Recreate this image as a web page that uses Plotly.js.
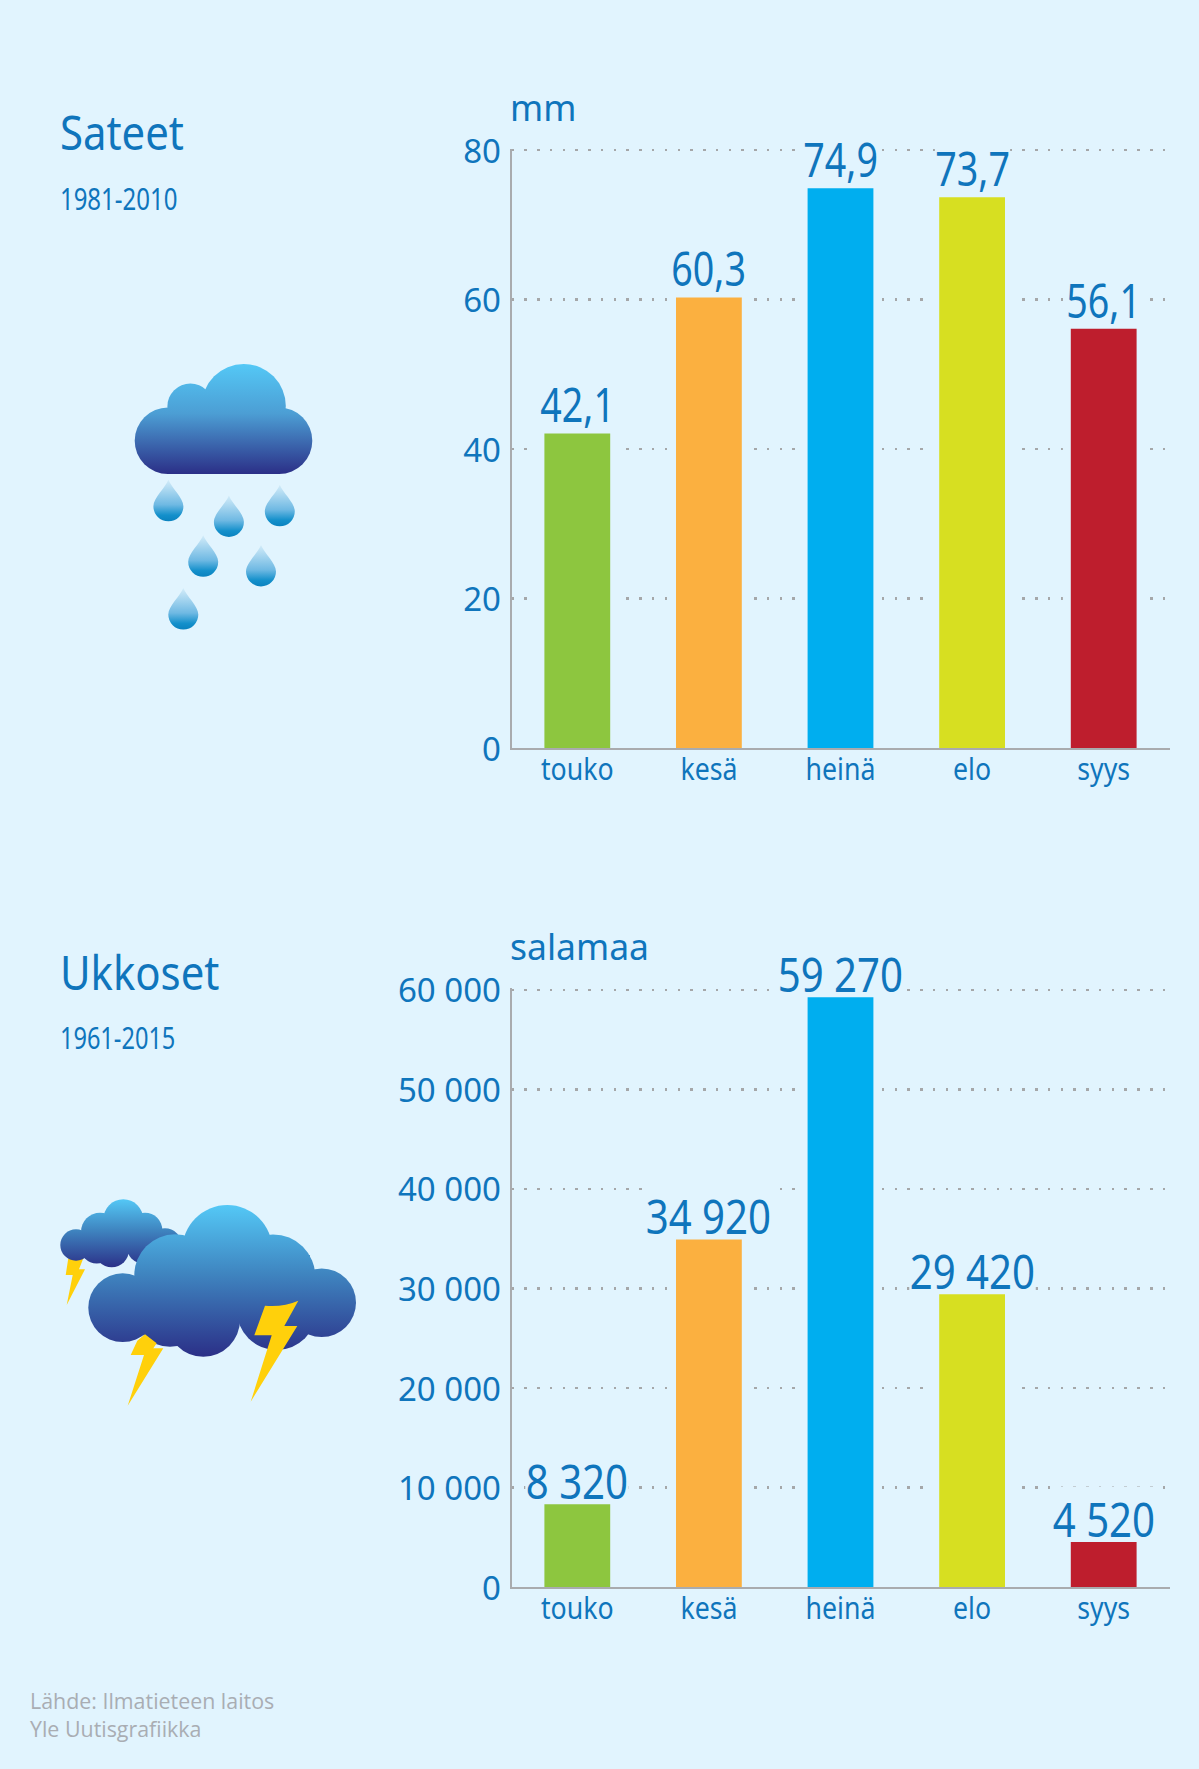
<!DOCTYPE html>
<html><head><meta charset="utf-8">
<script src="https://cdn.plot.ly/plotly-3.0.1.min.js"></script>
<style>html,body{margin:0;padding:0;background:#e1f4fe}</style></head>
<body><div id="chart" style="width:1199px;height:1769px"></div>
<script>
const months = ['touko','kesä','heinä','elo','syys'];
const barColors = ['#8dc63f','#fbb040','#00aeef','#d7df21','#be1e2d'];
const rainValues = [42.1,60.3,74.9,73.7,56.1];
const rainLabels = ['42,1','60,3','74,9','73,7','56,1'];
const rainTicks = [0,20,40,60,80];
const strikeValues = [8320,34920,59270,29420,4520];
const strikeLabels = ['8 320','34 920','59 270','29 420','4 520'];
const strikeTicks = [0,10000,20000,30000,40000,50000,60000];
const strikeTickText = ['0','10 000','20 000','30 000','40 000','50 000','60 000'];

const W=1199,H=1769,BG='#e1f4fe',BLUE='#0f75bc',GREY='#a9abae';
const NOTO='"Noto Sans", sans-serif';
const px=x=>x/W, py=y=>1-y/H;

const drops=[[168.4,479.8],[228.9,495.5],[279.8,484.8],[203.2,535.3],[261,544.9],[183.3,588.1]];
const dropPath='M0 0C3 8 15 18 15 26.5A15 15 0 0 1-15 26.5C-15 18-3 8 0 0Z';
const circles=(a)=>a.map(c=>`<circle cx="${c[0]}" cy="${c[1]}" r="${c[2]}"/>`).join('');
const poly=(a)=>a.map(p=>(p[0]/3).toFixed(1)+','+(1150+p[1]/3).toFixed(1)).join(' ');
const icon=`<svg xmlns="http://www.w3.org/2000/svg" width="${W}" height="${H}" viewBox="0 0 ${W} ${H}">
<defs>
<linearGradient id="a" gradientUnits="userSpaceOnUse" x1="0" x2="0" y1="364" y2="474"><stop offset="0" stop-color="#54c8f6"/><stop offset=".45" stop-color="#4c9ed4"/><stop offset="1" stop-color="#2b2f87"/></linearGradient>
<linearGradient id="b" x1="0" x2="0" y1="0" y2="1"><stop offset="0" stop-color="#d3ecf9"/><stop offset=".6" stop-color="#6fb9e3"/><stop offset=".85" stop-color="#1490cb"/><stop offset="1" stop-color="#0a82bf"/></linearGradient>
<linearGradient id="c" gradientUnits="userSpaceOnUse" x1="0" x2="0" y1="1205" y2="1357"><stop offset="0" stop-color="#54c8f6"/><stop offset=".45" stop-color="#3f85c0"/><stop offset="1" stop-color="#2b2f87"/></linearGradient>
<linearGradient id="d" gradientUnits="userSpaceOnUse" x1="0" x2="0" y1="1199" y2="1268"><stop offset="0" stop-color="#54c8f6"/><stop offset=".45" stop-color="#3f85c0"/><stop offset="1" stop-color="#2b2f87"/></linearGradient>
</defs>
<g fill="url(#a)"><rect x="134.7" y="407.5" width="177.6" height="66.5" rx="33.2"/>${circles([[190.4,406.4,23],[243.8,406,42]])}<rect x="168" y="405" width="116" height="6"/></g>
${drops.map(d=>`<path transform="translate(${d[0]} ${d[1]})" d="${dropPath}" fill="url(#b)"/>`).join('')}
<polygon fill="#ffd00b" points="${poly([[205,325],[250,325],[237,358],[255,358],[200,465],[218,375],[197,375]])}"/>
<g fill="url(#d)">${circles([[123.3,1219.3,20],[100,1231.7,19],[145,1230,17.3],[76,1245,15.7],[111.7,1250,17.3],[96.7,1246.7,16.7],[165,1245,16.7],[143.3,1246.7,16.7]])}<rect x="85" y="1222" width="70" height="32"/></g>
<g fill="url(#c)">${circles([[122.7,1307.7,34.4],[227.3,1250,45],[175,1275,40.7],[273,1276.7,42.3],[321.7,1302.7,34.3],[203.3,1320,36.7],[276.7,1310,40],[170,1310,36.7]])}<rect x="150" y="1255" width="160" height="65"/></g>
<polygon fill="#ffd00b" points="${poly([[412,572],[435,553],[470,580],[460,595],[490,595],[383,767],[432,615],[392,615]])}"/>
<path fill="#ffd00b" d="M265 1305.7Q283.3 1307.3 298.3 1300.7L284.3 1326H297.3L250.7 1401.7L271.7 1335.3H254.3Z"/>
</svg>`;

function barTraces(values,xa,ya){
  return [
    {type:'bar',x:months,y:values,xaxis:xa,yaxis:ya,width:0.62,marker:{color:BG},hoverinfo:'skip',showlegend:false},
    {type:'bar',x:months,y:values,xaxis:xa,yaxis:ya,width:0.5,marker:{color:barColors},showlegend:false}
  ];
}
const data=[...barTraces(rainValues,'x','y'),...barTraces(strikeValues,'x2','y2')];

function labels(texts,values,xa,ya,shift){
  return texts.map((t,i)=>({text:t,x:months[i],y:values[i],xref:xa,yref:ya,yanchor:'bottom',xanchor:'center',
    showarrow:false,yshift:shift,borderpad:0,bgcolor:BG,font:{family:NOTO,size:47,color:BLUE}}));
}
function pageText(t,x,y,family,size,color){
  return {text:t,x:px(x),y:py(y),xref:'paper',yref:'paper',xanchor:'left',yanchor:'bottom',showarrow:false,borderpad:0,
    font:{family,size,color:color||BLUE}};
}
const xAxis=(anchor)=>({anchor,type:'category',categoryorder:'array',categoryarray:months,range:[-0.5,4.5],
  domain:[px(511.5),px(1169.5)],showline:true,linecolor:GREY,linewidth:2,showgrid:false,zeroline:false,ticks:'',
  tickfont:{family:NOTO,size:30,color:BLUE},ticklabelstandoff:-6,fixedrange:true});
const yAxis=(anchor,top,bottom,range,vals,text)=>({anchor,domain:[py(bottom),py(top)],range,tickmode:'array',tickvals:vals,ticktext:text,
  showline:true,linecolor:GREY,linewidth:2,showgrid:true,gridcolor:'#a5a7a9',gridwidth:2.5,griddash:'2.5px,10.27px',zeroline:false,ticks:'',
  tickfont:{family:NOTO,size:33,color:BLUE},ticklabelstandoff:2,ticklabelshift:1,fixedrange:true});

const annotations=[
    ...labels(rainLabels,rainValues,'x','y',-4),
    ...labels(strikeLabels,strikeValues,'x2','y2',-10),
    pageText('Sateet',59,165,NOTO,47.6),
    pageText('1981-2010',59,220,NOTO,30),
    pageText('Ukkoset',59,1005,NOTO,47.6),
    pageText('1961-2015',59,1059,NOTO,30),
    pageText('mm',509,132,NOTO,35.5),
    pageText('salamaa',509,971,NOTO,35.5),
    pageText('Lähde: Ilmatieteen laitos',29,1716,'"Open Sans", sans-serif',21.4,'#a9adb3'),
    pageText('Yle Uutisgrafiikka',29,1744,'"Open Sans", sans-serif',21.4,'#a9adb3')
];
// horizontal squeeze per annotation: the reference face is condensed and no condensed face is installed
const squeeze=[...rainLabels.map(()=>.80),...strikeLabels.map(()=>.855),.88,.80,.88,.786,1,1,1,1];
const tickSqueeze=.89;

const layout={width:W,height:H,margin:{l:0,r:0,t:0,b:0},paper_bgcolor:BG,plot_bgcolor:'rgba(0,0,0,0)',barmode:'overlay',showlegend:false,
  xaxis:xAxis('y'),yaxis:yAxis('x',148.7,748,[0,80.2],rainTicks,rainTicks.map(String)),
  xaxis2:xAxis('y2'),yaxis2:yAxis('x2',988.4,1587,[0,60150],strikeTicks,strikeTickText),
  images:[{source:'data:image/svg+xml;charset=utf-8,'+encodeURIComponent(icon),xref:'paper',yref:'paper',x:0,y:1,sizex:1,sizey:1,xanchor:'left',yanchor:'top',sizing:'stretch',layer:'below'}],
  annotations};
Plotly.newPlot('chart',data,layout,{displayModeBar:false,staticPlot:true}).then(gd=>{
  gd.querySelectorAll('g.annotation').forEach((g,i)=>{
    const s=squeeze[i];
    const r=g.querySelector('rect.bg');
    if(annotations[i].xanchor==='center'&&r){ r.setAttribute('height',Math.max(0,parseFloat(r.getAttribute('height'))+annotations[i].yshift-2)); }
    if(s===1) return;
    const b=g.getBBox();
    const cx=annotations[i].xanchor==='left'?b.x:b.x+b.width/2;
    g.setAttribute('transform',`translate(${cx} 0) scale(${s} 1) translate(${-cx} 0)`);
  });
  gd.querySelectorAll('.xtick text,.x2tick text').forEach(t=>{
    const b=t.getBBox(), cx=b.x+b.width/2, old=t.getAttribute('transform')||'';
    t.setAttribute('transform',`${old} translate(${cx} 0) scale(${tickSqueeze} 1) translate(${-cx} 0)`);
  });
});
</script></body></html>
